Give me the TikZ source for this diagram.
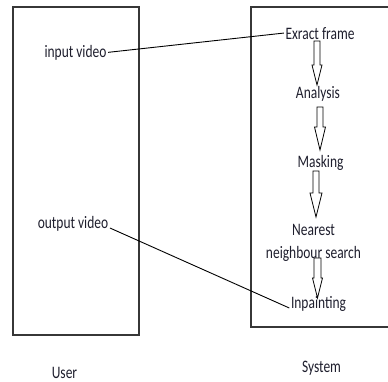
\documentclass[tikz,border=0pt]{standalone}
\usepackage{fontspec}
\newfontfamily\calfont[FakeStretch=0.77]{Carlito}
\definecolor{txt}{RGB}{30,30,45}
\definecolor{boxc}{RGB}{55,55,55}
\tikzset{
  lbl/.style={font=\calfont\fontsize{17.5}{23}\selectfont, text=txt, inner sep=1.5pt, anchor=base, align=center},
  frame/.style={draw=boxc, line width=1.2pt},
  link/.style={draw=black, line width=0.9pt},
  barrow/.style={draw=black, line width=0.8pt, fill=white, line join=miter}
}
% block arrow: x, ytop, yhead, ytip, shaft half width, head half width
\newcommand{\blkarrow}[6]{%
  \draw[barrow] (#1-#5,#2) -- (#1+#5,#2) -- (#1+#5,#3) -- (#1+#6,#3) -- (#1,#4)
    -- (#1-#6,#3) -- (#1-#5,#3) -- cycle;}
\begin{document}
\begin{tikzpicture}[x=1pt,y=-1pt]
\useasboundingbox (0,0) rectangle (388,381);
% boxes
\draw[frame] (13,7) rectangle (139,335);
\draw[frame] (251,7) rectangle (392,327);
% block arrows
\blkarrow{317}{41}{65}{85}{3}{5}
\blkarrow{320}{107}{127}{150}{3}{5.5}
\blkarrow{316}{171}{193}{217}{3}{6}
\blkarrow{317.5}{258}{278}{298}{3.5}{5}
% labels
\node[lbl] (iv) at (75.5,57) {input video};
\node[lbl] (ov) at (73,228) {output video};
\node[lbl] (ef) at (320,39) {Exract frame};
\node[lbl] (an) at (318,98) {Analysis};
\node[lbl] (mk) at (320.5,167) {Masking};
\node[lbl] (nn) at (313.5,258) {Nearest\\neighbour search};
\node[lbl] (ip) at (318.5,308) {Inpainting};
\node[lbl] (us) at (64.5,378) {User};
\node[lbl] (sy) at (321.5,372) {System};
% connectors
\draw[link] (iv.east) -- (ef.west);
\draw[link] (ov.base east) -- (ip.base west);
\end{tikzpicture}
\end{document}
